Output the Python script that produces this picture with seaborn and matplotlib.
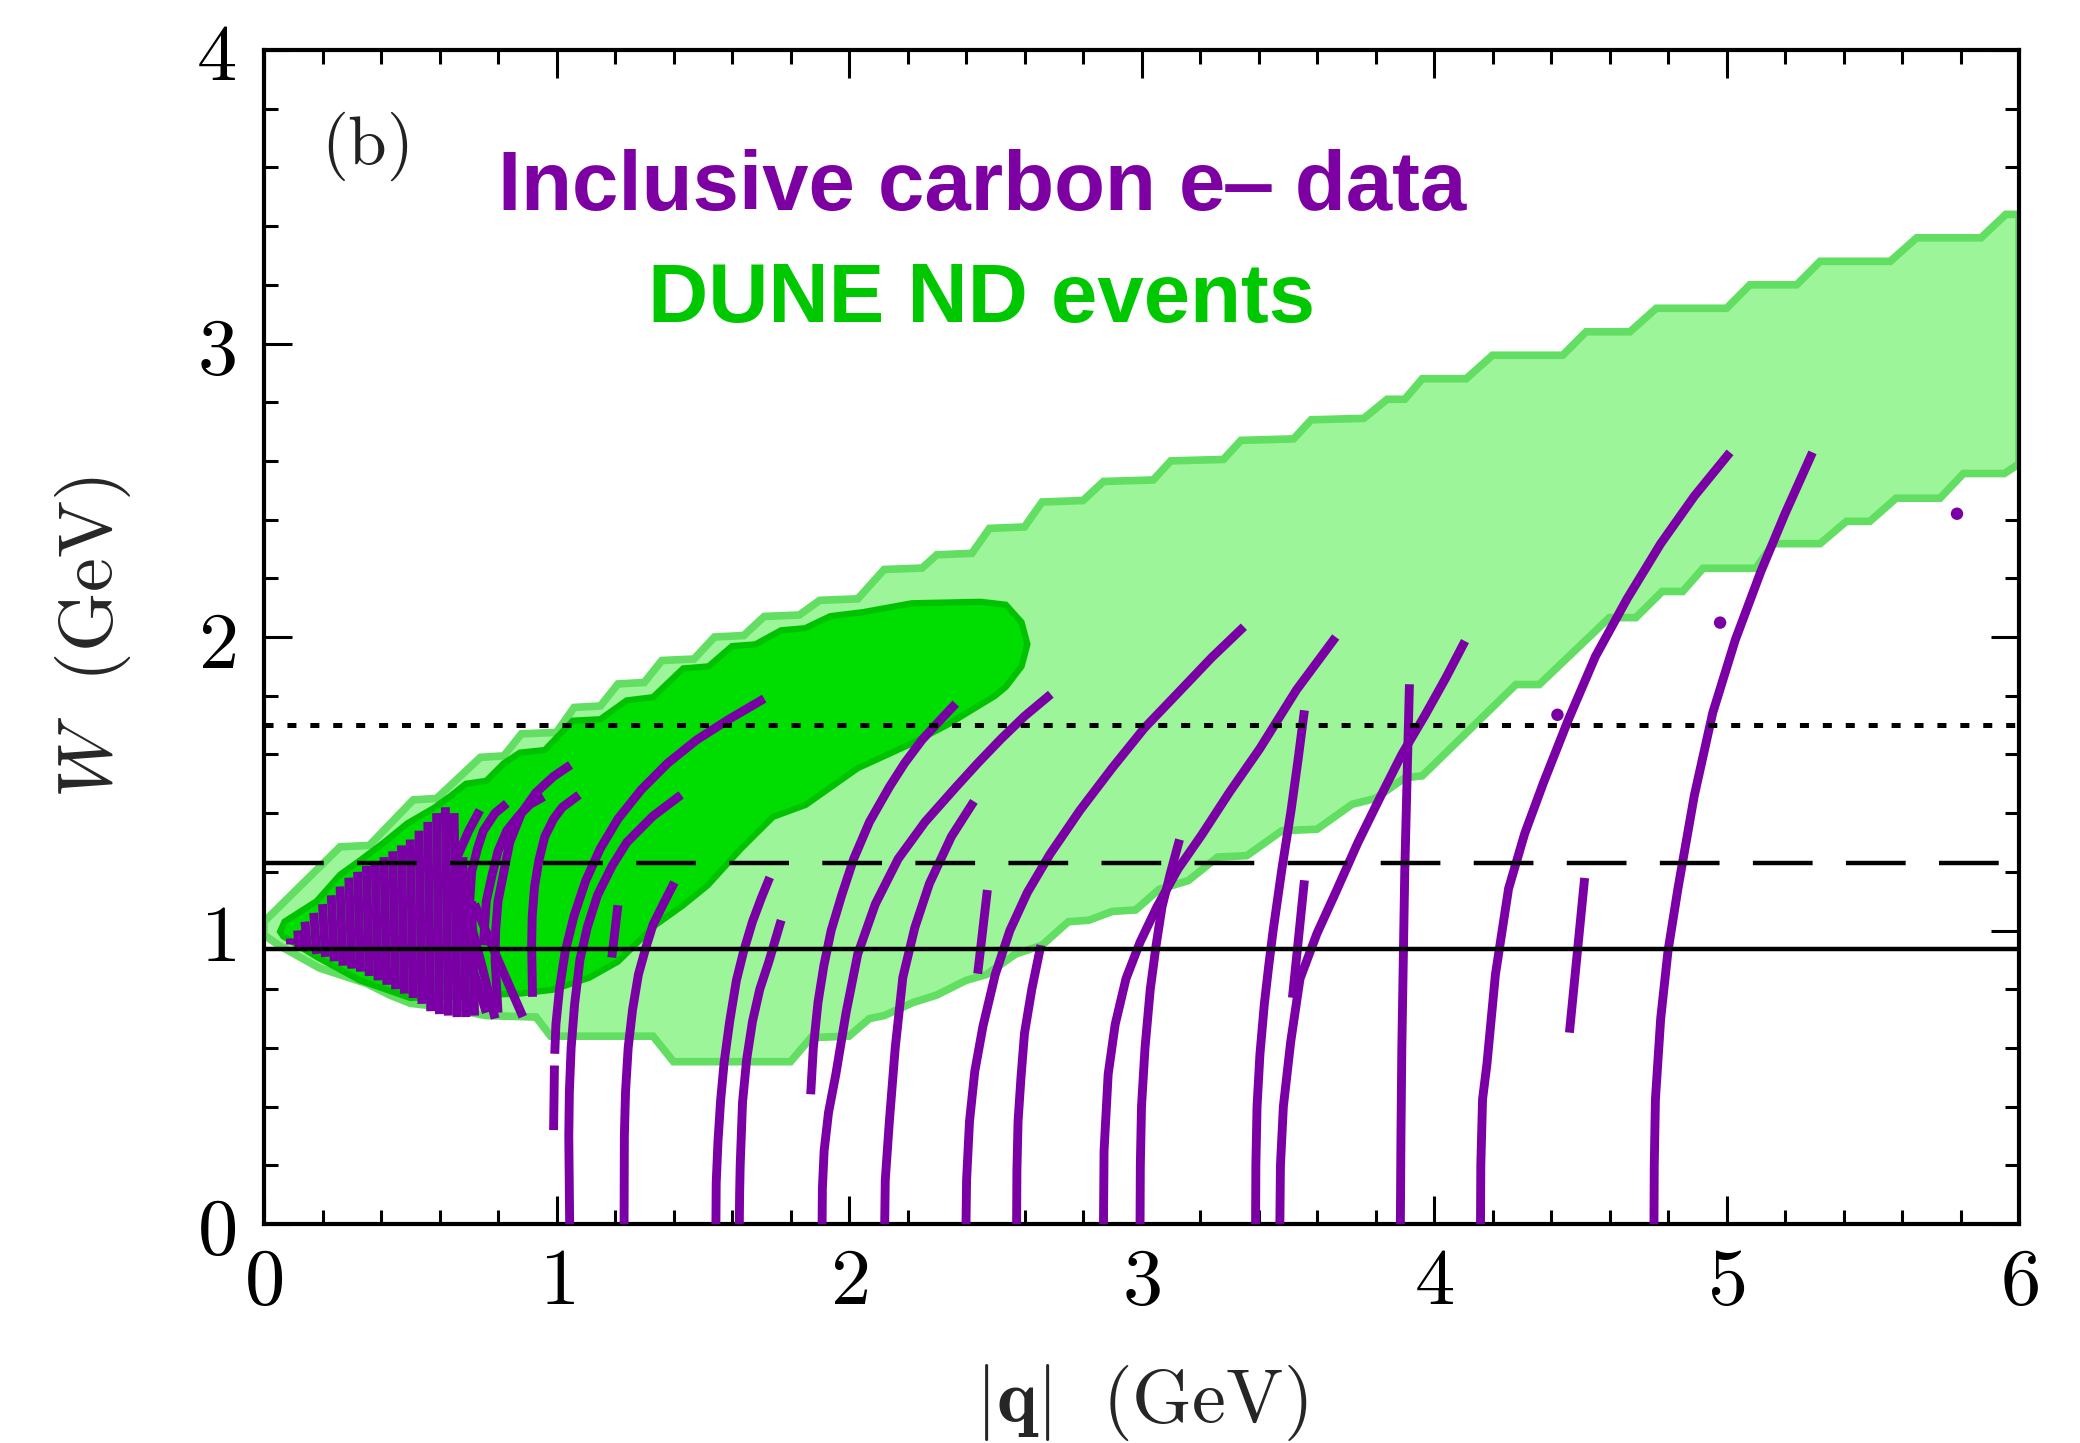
import numpy as np
import pandas as pd
import matplotlib
matplotlib.use("Agg")
import matplotlib.pyplot as plt
from matplotlib.ticker import AutoMinorLocator
import seaborn as sns

# ---------------- data ----------------
x_ticks = [0, 1, 2, 3, 4, 5, 6]
y_ticks = [0, 1, 2, 3, 4]

# reference lines (W in GeV)
w_nucleon = 0.936
w_delta = 1.23
w_dis = 1.70

# DUNE ND events: outer (light) band, traced counter-clockwise
band_q = [0.00, 0.26, 0.36, 0.51, 0.59, 0.74, 0.82, 0.88, 1.00, 1.06, 1.15, 1.21, 1.30, 1.36,
          1.47, 1.54, 1.64, 1.71, 1.83, 1.90, 2.03, 2.12, 2.25, 2.30, 2.42, 2.48, 2.60, 2.66,
          2.80, 2.87, 3.04, 3.10, 3.28, 3.34, 3.52, 3.58, 3.76, 3.84, 3.90, 3.96, 4.11, 4.20,
          4.44, 4.52, 4.67, 4.76, 5.00, 5.08, 5.24, 5.32, 5.56, 5.65, 5.87, 5.955, 6.00,
          6.00, 5.95, 5.81, 5.73, 5.58, 5.49, 5.41, 5.32, 5.16, 5.10, 4.92, 4.85, 4.78, 4.69,
          4.60, 4.36, 4.28, 3.96, 3.90, 3.80, 3.72, 3.60, 3.48, 3.36, 3.26, 3.16, 3.06, 2.98,
          2.90, 2.82, 2.75, 2.66, 2.57, 2.47, 2.40, 2.30, 2.22, 2.12, 2.07, 2.00, 1.87, 1.80,
          1.40, 1.33, 0.98, 0.93, 0.76, 0.60, 0.50, 0.43, 0.35, 0.19, 0.05, 0.00]
band_W = [1.03, 1.285, 1.29, 1.445, 1.45, 1.59, 1.595, 1.67, 1.675, 1.76, 1.765, 1.84, 1.845, 1.92,
          1.925, 2.00, 2.005, 2.07, 2.075, 2.125, 2.13, 2.23, 2.235, 2.28, 2.285, 2.37, 2.375, 2.46,
          2.465, 2.53, 2.535, 2.60, 2.605, 2.67, 2.675, 2.74, 2.745, 2.81, 2.81, 2.88, 2.88, 2.96,
          2.96, 3.04, 3.04, 3.12, 3.12, 3.20, 3.20, 3.28, 3.28, 3.36, 3.36, 3.44, 3.44,
          2.59, 2.557, 2.557, 2.473, 2.473, 2.394, 2.394, 2.318, 2.318, 2.234, 2.234, 2.155, 2.155, 2.066,
          2.066, 1.838, 1.838, 1.527, 1.52, 1.45, 1.43, 1.345, 1.34, 1.255, 1.25, 1.17, 1.14, 1.07,
          1.065, 1.035, 1.03, 0.95, 0.92, 0.85, 0.83, 0.78, 0.755, 0.71, 0.70, 0.64, 0.635, 0.553,
          0.553, 0.64, 0.64, 0.705, 0.71, 0.74, 0.752, 0.78, 0.82, 0.872, 0.95, 0.985]

# DUNE ND events: inner (dark) core
core_q = [0.055, 0.07, 0.18, 0.26, 0.33, 0.41, 0.49, 0.58, 0.64, 0.69, 0.76, 0.82, 0.875, 0.96,
          1.056, 1.15, 1.24, 1.33, 1.433, 1.52, 1.60, 1.68, 1.768, 1.85, 1.936, 2.05, 2.215,
          2.45, 2.536, 2.59, 2.61, 2.59, 2.536, 2.50, 2.335, 2.21, 2.03, 1.852,
          1.74, 1.629, 1.517, 1.433, 1.336, 1.21, 1.112, 0.987, 0.875, 0.50, 0.328, 0.18, 0.066]
core_W = [0.996, 1.03, 1.10, 1.19, 1.24, 1.30, 1.365, 1.417, 1.46, 1.50, 1.51, 1.57, 1.606, 1.615,
          1.715, 1.72, 1.784, 1.795, 1.893, 1.90, 1.969, 1.975, 2.023, 2.03, 2.071, 2.085, 2.115,
          2.12, 2.11, 2.05, 1.975, 1.90, 1.83, 1.80, 1.70, 1.635, 1.553, 1.428,
          1.387, 1.277, 1.154, 1.086, 1.017, 0.894, 0.839, 0.798, 0.785, 0.77, 0.83, 0.91, 0.98]

# Inclusive carbon e- data: low-|q| cluster (bottom point, top point)
cluster_q = [[0.09, 0.09], [0.12, 0.115], [0.15, 0.14], [0.18, 0.17], [0.21, 0.20], [0.24, 0.23],
             [0.27, 0.26], [0.30, 0.29], [0.33, 0.32], [0.36, 0.35], [0.39, 0.38], [0.42, 0.41],
             [0.45, 0.44], [0.48, 0.47], [0.51, 0.50], [0.54, 0.53], [0.57, 0.56], [0.60, 0.59],
             [0.63, 0.62], [0.66, 0.65], [0.69, 0.68], [0.72, 0.71]]
cluster_W = [[0.955, 0.975], [0.94, 1.00], [0.93, 1.03], [0.92, 1.06], [0.91, 1.09], [0.895, 1.12],
             [0.88, 1.15], [0.87, 1.18], [0.86, 1.20], [0.845, 1.22], [0.83, 1.235], [0.815, 1.25],
             [0.80, 1.27], [0.785, 1.29], [0.77, 1.31], [0.75, 1.34], [0.725, 1.37], [0.715, 1.40],
             [0.71, 1.42], [0.705, 1.40], [0.705, 1.25], [0.71, 1.10]]

# Inclusive carbon e- data: longer curves
curves_q = [
    [0.99, 0.993],
    [0.994, 0.998, 1.01, 1.03, 1.06, 1.10, 1.15, 1.21, 1.29, 1.38, 1.48, 1.59, 1.71],
    [1.045, 1.042, 1.044, 1.05, 1.062, 1.08, 1.105, 1.14, 1.19, 1.24, 1.33, 1.426],
    [1.231, 1.232, 1.236, 1.245, 1.26, 1.28, 1.305, 1.33, 1.365, 1.403],
    [0.80, 0.79, 0.792, 0.80, 0.82, 0.84, 0.88, 0.93, 0.99, 1.048],
    [0.918, 0.915, 0.917, 0.925, 0.94, 0.96, 0.99, 1.02, 1.077],
    [0.75, 0.76, 0.78, 0.80, 0.83, 0.87, 0.91, 0.956],
    [0.70, 0.71, 0.73, 0.75, 0.79, 0.83],
    [0.64, 0.65, 0.66, 0.70, 0.738],
    [0.70, 0.745, 0.79],
    [0.72, 0.80, 0.885],
    [0.68, 0.72, 0.76],
    [1.545, 1.546, 1.552, 1.561, 1.573, 1.592, 1.615, 1.64, 1.67, 1.70, 1.729],
    [1.625, 1.626, 1.628, 1.636, 1.65, 1.67, 1.695, 1.726, 1.768],
    [1.869, 1.878, 1.894, 1.914, 1.939, 1.975, 2.016, 2.07, 2.138, 2.19, 2.25, 2.31, 2.365],
    [1.908, 1.909, 1.915, 1.93, 1.955, 1.99, 2.03, 2.09, 2.168, 2.26, 2.366, 2.44, 2.519, 2.60, 2.69],
    [2.122, 2.124, 2.138, 2.158, 2.184, 2.225, 2.275, 2.35, 2.427],
    [2.40, 2.402, 2.412, 2.43, 2.458, 2.50, 2.55, 2.61, 2.687, 2.79, 2.90, 3.01, 3.13, 3.24, 3.35],
    [2.573, 2.574, 2.578, 2.588, 2.60, 2.625, 2.656],
    [2.87, 2.872, 2.886, 2.91, 2.947, 2.995, 3.053, 3.125, 3.206, 3.30, 3.404, 3.53, 3.664],
    [2.995, 2.996, 3.00, 3.012, 3.03, 3.05, 3.07, 3.10, 3.13],
    [3.39, 3.391, 3.395, 3.405, 3.42, 3.435, 3.45, 3.48, 3.511, 3.535, 3.557],
    [3.473, 3.475, 3.485, 3.51, 3.542, 3.60, 3.664, 3.74, 3.817, 3.89, 3.969, 4.04, 4.106],
    [3.885, 3.887, 3.89, 3.895, 3.90, 3.908, 3.916],
    [4.159, 4.16, 4.166, 4.181, 4.21, 4.255, 4.31, 4.374, 4.46, 4.552, 4.66, 4.775, 4.89, 5.012],
    [4.752, 4.753, 4.757, 4.775, 4.80, 4.834, 4.89, 4.953, 5.03, 5.117, 5.20, 5.294],
    [1.21, 1.189],
    [2.473, 2.44],
    [3.557, 3.516],
    [4.515, 4.463],
]
curves_W = [
    [0.32, 0.54],
    [0.58, 0.68, 0.80, 0.93, 1.05, 1.17, 1.28, 1.38, 1.48, 1.57, 1.65, 1.72, 1.79],
    [0.0, 0.30, 0.45, 0.60, 0.75, 0.90, 1.01, 1.12, 1.22, 1.30, 1.39, 1.462],
    [0.0, 0.30, 0.45, 0.60, 0.73, 0.85, 0.94, 1.02, 1.09, 1.164],
    [0.72, 0.90, 1.00, 1.10, 1.20, 1.30, 1.40, 1.47, 1.525, 1.564],
    [0.774, 0.95, 1.05, 1.15, 1.24, 1.32, 1.38, 1.42, 1.462],
    [0.95, 1.10, 1.19, 1.27, 1.34, 1.39, 1.43, 1.456],
    [1.05, 1.20, 1.28, 1.34, 1.40, 1.433],
    [1.10, 1.18, 1.25, 1.34, 1.41],
    [1.05, 0.88, 0.70],
    [1.09, 0.90, 0.706],
    [1.00, 0.85, 0.72],
    [0.0, 0.14, 0.28, 0.42, 0.55, 0.69, 0.83, 0.93, 1.03, 1.11, 1.181],
    [0.0, 0.10, 0.20, 0.415, 0.56, 0.69, 0.80, 0.894, 1.035],
    [0.442, 0.60, 0.755, 0.88, 1.00, 1.12, 1.244, 1.37, 1.489, 1.57, 1.65, 1.715, 1.773],
    [0.0, 0.12, 0.25, 0.38, 0.51, 0.72, 0.92, 1.09, 1.244, 1.37, 1.489, 1.57, 1.652, 1.73, 1.805],
    [0.0, 0.15, 0.35, 0.60, 0.84, 1.01, 1.16, 1.32, 1.44],
    [0.0, 0.15, 0.35, 0.52, 0.674, 0.85, 1.00, 1.13, 1.26, 1.41, 1.554, 1.69, 1.815, 1.93, 2.035],
    [0.0, 0.18, 0.35, 0.50, 0.65, 0.80, 0.95],
    [0.0, 0.25, 0.51, 0.68, 0.836, 0.96, 1.081, 1.21, 1.326, 1.47, 1.619, 1.82, 2.00],
    [0.0, 0.20, 0.40, 0.60, 0.80, 0.95, 1.08, 1.20, 1.31],
    [0.0, 0.20, 0.40, 0.58, 0.75, 0.88, 1.00, 1.21, 1.407, 1.58, 1.75],
    [0.0, 0.20, 0.40, 0.62, 0.836, 0.99, 1.13, 1.30, 1.456, 1.60, 1.733, 1.86, 1.986],
    [0.0, 0.30, 0.60, 0.90, 1.20, 1.52, 1.839],
    [0.0, 0.20, 0.425, 0.545, 0.85, 1.143, 1.33, 1.503, 1.72, 1.934, 2.13, 2.318, 2.48, 2.629],
    [0.0, 0.20, 0.425, 0.70, 0.93, 1.143, 1.46, 1.742, 1.99, 2.222, 2.42, 2.629],
    [1.086, 0.908],
    [1.138, 0.853],
    [1.171, 0.771],
    [1.179, 0.652],
]

dots_q = [4.422, 4.978, 5.788]
dots_W = [1.735, 2.049, 2.420]

# ---------------- style ----------------
PURPLE = "#7a00a6"
TXT_PURPLE = "#7d00a3"
LIGHT = "#9cf598"
LIGHT_EDGE = "#62de62"
DARK = "#00dd00"
DARK_EDGE = "#00c200"
TXT_GREEN = "#00c800"
LW_DATA = 6.4

sns.set_theme(style="ticks")
plt.rcParams.update({
    "font.family": ["DejaVu Serif"],
    "mathtext.fontset": "cm",
    "axes.linewidth": 3.0,
    "axes.edgecolor": "black",
    "lines.scale_dashes": False,
})

fig = plt.figure(figsize=(20.8, 14.43), dpi=100)
ax = fig.add_axes([264 / 2080, 1 - 1224 / 1443, (2019 - 264) / 2080, (1224 - 50) / 1443])
ax.set_facecolor("white")

# green regions
ax.fill(band_q, band_W, facecolor=LIGHT, edgecolor=LIGHT_EDGE, linewidth=5.5, zorder=1)
ax.fill(core_q, core_W, facecolor=DARK, edgecolor=DARK_EDGE, linewidth=4.5, zorder=2)

# purple data curves
rows = []
cid = 0
for qs, ws in zip(cluster_q + curves_q, cluster_W + curves_W):
    for qv, wv in zip(qs, ws):
        rows.append({"curve": cid, "q": qv, "W": wv})
    cid += 1
df = pd.DataFrame(rows)
sns.lineplot(data=df, x="q", y="W", units="curve", estimator=None, sort=False,
             color=PURPLE, legend=False, ax=ax, zorder=3, linewidth=LW_DATA,
             solid_capstyle="butt", solid_joinstyle="round")
for ln in list(ax.get_lines()):
    ln.set_linewidth(LW_DATA)
sns.scatterplot(x=dots_q, y=dots_W, color=PURPLE, s=80, edgecolor="none", ax=ax, zorder=3)

# reference lines
ax.axhline(w_nucleon, color="black", linewidth=3.2, zorder=4)
ax.axhline(w_delta, color="black", linewidth=3.2, dashes=(43, 24), zorder=4)
ax.axhline(w_dis, color="black", linewidth=3.6, dashes=(6.5, 10), zorder=4)

ax.set_xlim(0, 6)
ax.set_ylim(0, 4)
ax.set_xticks(x_ticks)
ax.set_yticks(y_ticks)
ax.set_xticklabels([f"${v}$" for v in x_ticks])
ax.set_yticklabels([f"${v}$" for v in y_ticks])
ax.xaxis.set_minor_locator(AutoMinorLocator(5))
ax.yaxis.set_minor_locator(AutoMinorLocator(5))
ax.tick_params(which="both", direction="in", top=True, right=True, colors="black")
ax.tick_params(which="major", length=20, width=2.2, labelsize=58)
ax.tick_params(which="minor", length=10, width=2.2)
ax.tick_params(axis="x", which="major", pad=14)
ax.tick_params(axis="y", which="major", pad=20)
for s in ax.spines.values():
    s.set_visible(True)
    s.set_color("black")
    s.set_linewidth(3.0)

ax.set_xlabel(r"$|\mathbf{q}|\ \ \mathrm{(GeV)}$", fontsize=55)
ax.set_ylabel(r"$W\ \ \mathrm{(GeV)}$", fontsize=55)
ax.xaxis.set_label_coords(0.5, -0.152)
ax.xaxis.label.set_va("center")
ax.yaxis.set_label_coords(-0.0974, 0.5)
ax.yaxis.label.set_va("center")

ax.text(0.0575, 0.918, r"$\mathrm{(b)}$", transform=ax.transAxes, fontsize=50,
        ha="center", va="center", color="#222222")
ax.text(0.409, 0.8637, "Inclusive carbon e\u2012 data", transform=ax.transAxes,
        fontsize=60, fontweight="bold", family=["Liberation Sans", "DejaVu Sans"],
        color=TXT_PURPLE, ha="center", va="baseline", zorder=5)
ax.text(0.409, 0.768, "DUNE ND events", transform=ax.transAxes,
        fontsize=60, fontweight="bold", family=["Liberation Sans", "DejaVu Sans"],
        color=TXT_GREEN, ha="center", va="baseline", zorder=5)

fig.savefig("out.png", dpi=100, facecolor="white")
